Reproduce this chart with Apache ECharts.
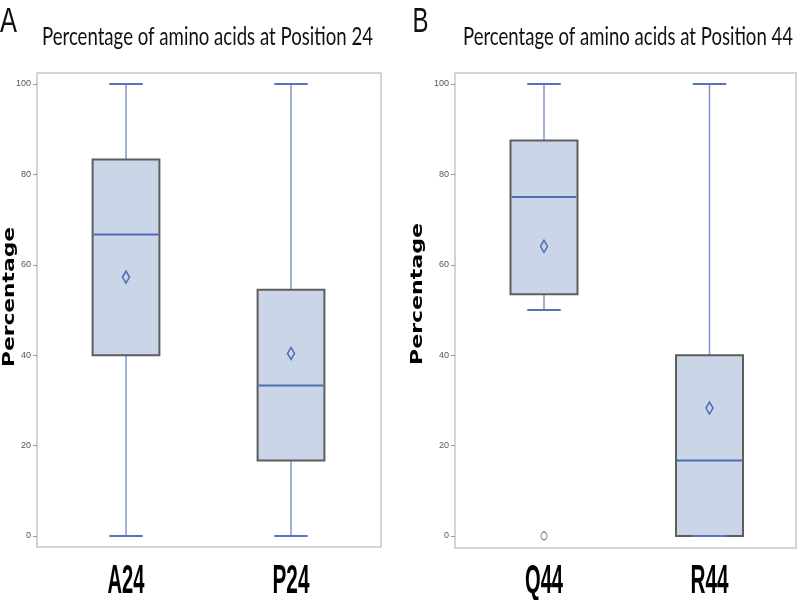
<!DOCTYPE html>
<html>
<head>
<meta charset="utf-8">
<script src="https://cdn.jsdelivr.net/npm/echarts@6/dist/echarts.min.js"></script>
<style>
  html, body { margin: 0; padding: 0; background: #ffffff; }
  #chart { width: 800px; height: 600px; }
</style>
</head>
<body>
<div id="chart"></div>
<script>
// ---- Data ----
const leftTitle = 'Percentage of amino acids at Position 24';
const rightTitle = 'Percentage of amino acids at Position 44';
const leftCategories = ['A24', 'P24'];
const rightCategories = ['Q44', 'R44'];

const leftMin    = [0, 0];
const leftQ1     = [40, 16.7];
const leftMedian = [66.7, 33.3];
const leftQ3     = [83.3, 54.5];
const leftMax    = [100, 100];
const leftMean   = [57.3, 40.4];

const rightMin    = [50, 0];
const rightQ1     = [53.5, 0];
const rightMedian = [75, 16.7];
const rightQ3     = [87.5, 40];
const rightMax    = [100, 100];
const rightMean   = [64.1, 28.3];

const rightOutlierCategory = ['Q44'];
const rightOutlierValue = [0];

const yTickMin = 0, yTickMax = 100, yTickStep = 20;
const yAxisName = 'Percentage';

// ---- Styles ----
const boxFill = '#cad5e7';
const boxEdge = '#5e5e5e';
const whiskerColor = '#7f95cb';
const capColor = '#5872bd';
const medianColor = '#4c6cb6';
const meanColor = '#4c6cb6';
const frameColor = '#c6c6c6';

const measureCtx = document.createElement('canvas').getContext('2d');
function textWidth(text, font) {
  measureCtx.font = font;
  return measureCtx.measureText(text).width;
}

function buildRows(mins, q1s, meds, q3s, maxs, means) {
  return mins.map((m, i) => [i, m, q1s[i], meds[i], q3s[i], maxs[i], means[i]]);
}

function renderBox(params, api) {
  const x = api.value(0);
  const pMin = api.coord([x, api.value(1)]);
  const pQ1 = api.coord([x, api.value(2)]);
  const pMed = api.coord([x, api.value(3)]);
  const pQ3 = api.coord([x, api.value(4)]);
  const pMax = api.coord([x, api.value(5)]);
  const pMean = api.coord([x, api.value(6)]);
  const band = api.size([1, 0])[0];
  const bw = band * 0.405;
  const cw = bw / 2;
  const cx = pMed[0];
  return {
    type: 'group',
    children: [
      { type: 'line', shape: { x1: cx, y1: pQ3[1], x2: cx, y2: pMax[1] },
        style: { stroke: whiskerColor, lineWidth: 1.5 } },
      { type: 'line', shape: { x1: cx, y1: pQ1[1], x2: cx, y2: pMin[1] },
        style: { stroke: whiskerColor, lineWidth: 1.5 } },
      { type: 'rect', shape: { x: cx - bw / 2, y: pQ3[1], width: bw, height: pQ1[1] - pQ3[1] },
        style: { fill: boxFill, stroke: boxEdge, lineWidth: 2 } },
      { type: 'line', shape: { x1: cx - cw / 2, y1: pMax[1], x2: cx + cw / 2, y2: pMax[1] },
        style: { stroke: capColor, lineWidth: 2.2 } },
      { type: 'line', shape: { x1: cx - cw / 2, y1: pMin[1], x2: cx + cw / 2, y2: pMin[1] },
        style: { stroke: capColor, lineWidth: 2.2 } },
      { type: 'line', shape: { x1: cx - bw / 2 + 1, y1: pMed[1], x2: cx + bw / 2 - 1, y2: pMed[1] },
        style: { stroke: medianColor, lineWidth: 2.2 } },
      { type: 'polygon', shape: { points: [[cx, pMean[1] - 6], [cx + 3.5, pMean[1]], [cx, pMean[1] + 6], [cx - 3.5, pMean[1]]] },
        style: { fill: 'none', stroke: meanColor, lineWidth: 1.5 } }
    ]
  };
}

function yAxisFor(gridIndex, offset) {
  return {
    type: 'value', gridIndex: gridIndex,
    min: yTickMin, max: yTickMax, interval: yTickStep,
    offset: offset,
    axisLine: { show: false },
    axisTick: { show: true, length: 4, lineStyle: { color: '#9a9a9a', width: 1 } },
    splitLine: { show: false },
    axisLabel: { fontSize: 9, color: '#555', fontFamily: 'Liberation Sans', margin: 6 }
  };
}

function xAxisFor(gridIndex, cats) {
  return {
    type: 'category', gridIndex: gridIndex, data: cats, boundaryGap: true,
    axisLine: { show: false }, axisTick: { show: false },
    axisLabel: { show: false }
  };
}

// Squeezed text helper (keeps real text, narrowed like the reference)
function squeezedText(text, x, y, font, fontStr, targetWidth, opts) {
  const w = textWidth(text, fontStr);
  const s = targetWidth / w;
  return Object.assign({
    type: 'text', x: x, y: y, scaleX: s, scaleY: 1,
    style: Object.assign({ text: text, align: 'center', verticalAlign: 'middle', fill: '#000' }, font)
  }, opts || {});
}

const chart = echarts.init(document.getElementById('chart'), null, { renderer: 'canvas' });
chart.setOption({
  backgroundColor: '#ffffff',
  animation: false,
  grid: [
    { left: 43.5, right: 426.5, top: 84, bottom: 64 },
    { left: 461.25, right: 7.75, top: 84, bottom: 64 }
  ],
  xAxis: [xAxisFor(0, leftCategories), xAxisFor(1, rightCategories)],
  yAxis: [yAxisFor(0, 6.5), yAxisFor(1, 6.25)],
  series: [
    { type: 'custom', xAxisIndex: 0, yAxisIndex: 0, renderItem: renderBox,
      encode: { x: 0, y: [1, 2, 3, 4, 5, 6] },
      data: buildRows(leftMin, leftQ1, leftMedian, leftQ3, leftMax, leftMean) },
    { type: 'custom', xAxisIndex: 1, yAxisIndex: 1, renderItem: renderBox,
      encode: { x: 0, y: [1, 2, 3, 4, 5, 6] },
      data: buildRows(rightMin, rightQ1, rightMedian, rightQ3, rightMax, rightMean) },
    { type: 'scatter', xAxisIndex: 1, yAxisIndex: 1, symbol: 'circle', symbolSize: [6, 8],
      itemStyle: { color: 'none', borderColor: '#6b6b6b', borderWidth: 1.2 },
      data: rightOutlierCategory.map((c, i) => [c, rightOutlierValue[i]]) }
  ]
});

// ---- Text drawn after layout (squeezed to match the reference's narrow type) ----
const titleFont = { fontFamily: 'Lato', fontSize: 25, fontWeight: 'normal', fill: '#111' };
const titleFontStr = 'normal 25px Lato';
const letterFont = { fontFamily: 'Liberation Sans', fontSize: 35, fontWeight: 'normal', fill: '#111' };
const letterFontStr = 'normal 35px "Liberation Sans"';
const catFont = { fontFamily: 'Liberation Sans', fontSize: 40, fontWeight: 'bold', fill: '#000' };
const catFontStr = 'bold 40px "Liberation Sans"';
const nameFont = { fontFamily: 'DejaVu Sans', fontSize: 16, fontWeight: 'bold', fill: '#000' };
const nameFontStr = 'bold 16px "DejaVu Sans"';

const graphics = [
  { type: 'rect', shape: { x: 37, y: 73, width: 344, height: 474 }, style: { fill: 'none', stroke: frameColor, lineWidth: 1.5 }, z: 0 },
  { type: 'rect', shape: { x: 455, y: 73, width: 341, height: 475 }, style: { fill: 'none', stroke: frameColor, lineWidth: 1.5 }, z: 0 },
  squeezedText('A', 8.5, 22.5, letterFont, letterFontStr, 17),
  squeezedText('B', 420.5, 22.5, letterFont, letterFontStr, 16),
  squeezedText(leftTitle, 207.5, 36.5, titleFont, titleFontStr, 331),
  squeezedText(rightTitle, 628, 36.5, titleFont, titleFontStr, 330),
  squeezedText(yAxisName, 10, 297, nameFont, nameFontStr, 140, { rotation: Math.PI / 2 }),
  squeezedText(yAxisName, 418, 294, nameFont, nameFontStr, 142, { rotation: Math.PI / 2 })
];
leftCategories.forEach((c) => {
  const px = chart.convertToPixel({ xAxisIndex: 0 }, c);
  graphics.push(squeezedText(c, px, 582, catFont, catFontStr, 37));
});
rightCategories.forEach((c) => {
  const px = chart.convertToPixel({ xAxisIndex: 1 }, c);
  graphics.push(squeezedText(c, px, 582, catFont, catFontStr, 38));
});
chart.setOption({ graphic: graphics });
</script>
</body>
</html>
